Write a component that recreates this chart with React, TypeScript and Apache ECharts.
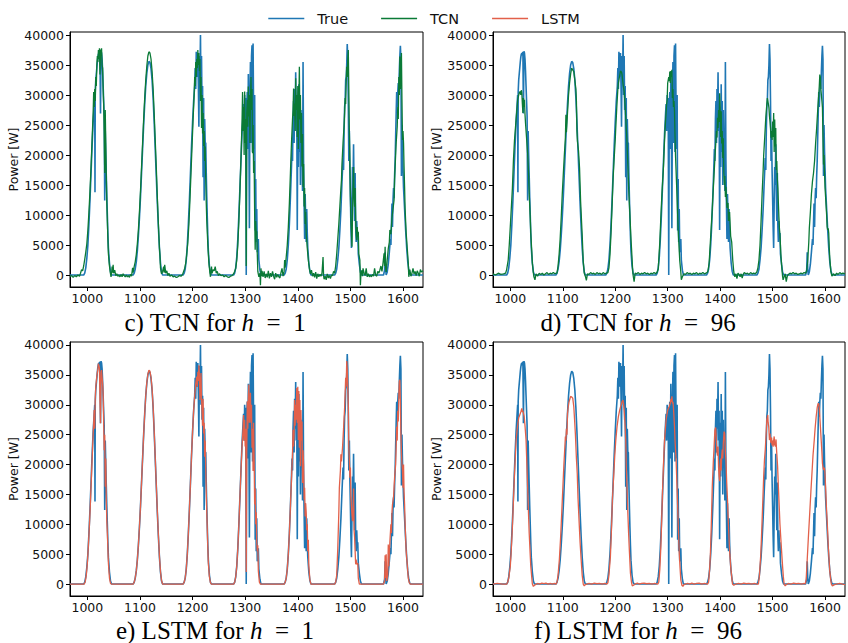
import React, { useEffect, useRef } from "react";
import * as echarts from "echarts";

// ---------- tick labels ----------
const xTicks = [1000, 1100, 1200, 1300, 1400, 1500, 1600];
const yTicks = [0, 5000, 10000, 15000, 20000, 25000, 30000, 35000, 40000];

// ---------- series (x = time step, y = power in W) ----------
const trueSeries = [
  [967, 0], [993, 0],
  [995, 300], [997, 1200], [999, 2800], [1001, 5000], [1003, 8500], [1005, 12500], [1007, 17000], [1009, 21500], [1011, 25500], [1013, 28500], [1014, 30000], [1014.5, 13800], [1015, 30500], [1016, 32500], [1017, 33500], [1018, 34500], [1019, 35500], [1020, 36300], [1021, 36800], [1022, 37000], [1023, 36600], [1024, 37200], [1025, 26900], [1026, 37300], [1027, 37000], [1028, 36000], [1029, 34000], [1030, 31500], [1031, 29000], [1032, 26500], [1033, 12400], [1034, 24000], [1035, 20000], [1036, 16500], [1037, 13000], [1038, 10000], [1039, 7000], [1040, 4500], [1042, 2000], [1044, 500], [1046, 0],
  [1087, 0], [1089, 300], [1091, 1000], [1093, 2200], [1095, 4000], [1097, 6500], [1099, 9500], [1101, 13000], [1103, 17000], [1105, 21000], [1107, 25000], [1109, 28500], [1111, 31500], [1113, 33600], [1115, 35000], [1117, 35600], [1119, 35400], [1121, 34400], [1123, 32500], [1125, 29500], [1127, 25500], [1129, 21000], [1131, 16500], [1133, 12000], [1135, 8000], [1137, 4500], [1139, 2000], [1141, 500], [1143, 0],
  [1182, 0], [1184, 300], [1186, 1000], [1188, 2500], [1190, 5000], [1192, 8500], [1194, 12500], [1196, 17000], [1198, 21500], [1200, 25500], [1202, 29000], [1204, 31500], [1205, 34500], [1206, 31000], [1207, 37200], [1208, 33000], [1209, 35500], [1210, 37000], [1211, 31800], [1212, 24700], [1213, 36500], [1214, 32500], [1215, 40000], [1216, 30000], [1217, 36500], [1218, 27500], [1219, 31500], [1220, 16300], [1221, 29500], [1222, 12400], [1223, 26000], [1224, 22100], [1225, 22000], [1226, 17000], [1227, 13000], [1228, 9500], [1229, 6500], [1230, 4000], [1232, 1500], [1234, 300], [1236, 0],
  [1278, 0], [1280, 300], [1282, 1200], [1284, 3000], [1286, 6000], [1288, 10000], [1290, 14500], [1292, 19000], [1294, 23500], [1296, 27000], [1297, 28500], [1298, 24000], [1299, 30000], [1300, 26000], [1301, 29500], [1302, 0], [1303, 28000], [1304, 30500], [1305, 21000], [1306, 33500], [1307, 25000], [1308, 7800], [1309, 30000], [1310, 35500], [1311, 22000], [1312, 36500], [1313, 38300], [1314, 20500], [1315, 38600], [1316, 27000], [1317, 21000], [1318, 30000], [1319, 7400], [1320, 16000], [1321, 5500], [1322, 11000], [1323, 3800], [1325, 6000], [1326, 2500], [1328, 800], [1330, 0],
  [1374, 0], [1376, 300], [1378, 1000], [1380, 2500], [1382, 5000], [1384, 8500], [1386, 13000], [1388, 18000], [1389, 21000], [1390, 19000], [1391, 26000], [1392, 29000], [1393, 22000], [1394, 31000], [1395, 26000], [1396, 33800], [1397, 24000], [1398, 29000], [1399, 7500], [1400, 27000], [1401, 18000], [1402, 31800], [1403, 20500], [1404, 29000], [1405, 15000], [1406, 27500], [1407, 20000], [1408, 24000], [1409, 14000], [1410, 35500], [1411, 19000], [1412, 12000], [1413, 6000], [1414, 13500], [1415, 9000], [1416, 5500], [1417, 11000], [1418, 7000], [1419, 4500], [1421, 2000], [1423, 600], [1425, 0],
  [1470, 0], [1472, 300], [1474, 1000], [1476, 2500], [1478, 4500], [1480, 7500], [1482, 11000], [1484, 15500], [1486, 19500], [1487, 17500], [1488, 24000], [1489, 28000], [1490, 29000], [1491, 32500], [1492, 33000], [1493, 35000], [1494, 38500], [1495, 36000], [1496, 29000], [1497, 19000], [1498, 24000], [1499, 17500], [1500, 13000], [1501, 8000], [1502, 4500], [1503, 12000], [1504, 18000], [1505, 15000], [1506, 21800], [1507, 14000], [1508, 9000], [1509, 17000], [1510, 8000], [1511, 5500], [1512, 9000], [1513, 6500], [1514, 7000], [1515, 3500], [1517, 1800], [1519, 500], [1521, 0],
  [1563, 0], [1565, 800], [1566, 3800], [1567, 1000], [1568, 0], [1570, 500], [1572, 1800], [1574, 3800], [1576, 6000], [1577, 5000], [1578, 8500], [1579, 11900], [1580, 8000], [1581, 12500], [1582, 14500], [1583, 12800], [1584, 16500], [1585, 19000], [1586, 23000], [1587, 27000], [1588, 30500], [1589, 28000], [1590, 30500], [1591, 32000], [1592, 31000], [1593, 34000], [1594, 36500], [1595, 38200], [1596, 36000], [1597, 16500], [1598, 25000], [1599, 20500], [1600, 17500], [1601, 14500], [1603, 11000], [1605, 7500], [1607, 4500], [1609, 2200], [1611, 800], [1613, 100], [1615, 0], [1638, 0],
];

const tcnH1 = [
  [967, -300], [970, -100], [973, -400], [976, -100], [979, -300], [982, 0], [985, -200], [987, 300], [989, 900], [991, 700],
  [993, 1500], [995, 2600], [997, 3800], [999, 5200], [1001, 7500], [1003, 10500], [1005, 14000], [1007, 18000], [1009, 22500], [1011, 27000], [1012, 30500], [1013, 28000], [1014, 31000], [1015, 29000], [1016, 33000], [1017, 31500], [1018, 35000], [1019, 36500], [1020, 35500], [1021, 37500], [1022, 36000], [1023, 37800], [1024, 33400], [1025, 37600], [1026, 36500], [1027, 37800], [1028, 35000], [1029, 34500], [1030, 31000], [1031, 28500], [1032, 24000], [1033, 17000], [1034, 27500], [1035, 22000], [1036, 16500], [1037, 12000], [1038, 9000], [1039, 6000], [1040, 3500], [1042, 1500], [1044, 200], [1045, -300],
  [1046, 300], [1047, 1400], [1048, 400], [1049, 1700], [1050, 300], [1052, 800], [1054, -100], [1056, 200], [1058, -200], [1060, 0], [1062, -300], [1064, 100], [1066, -300], [1068, 200], [1070, -100], [1072, -300], [1074, 0], [1076, -300], [1078, -100], [1080, -400], [1082, 100], [1084, -200], [1086, 1200], [1087, 400],
  [1089, 1400], [1091, 2200], [1093, 3400], [1095, 5200], [1097, 7500], [1099, 10500], [1101, 14000], [1103, 18000], [1105, 22000], [1107, 26000], [1109, 29500], [1111, 32500], [1113, 34800], [1115, 36500], [1117, 37200], [1119, 37000], [1121, 36000], [1123, 34000], [1125, 31000], [1127, 27000], [1129, 22500], [1131, 18000], [1133, 13000], [1135, 8500], [1137, 4500], [1138, 3300], [1139, 1200], [1141, 200],
  [1143, 600], [1145, 1400], [1146, 400], [1147, 1700], [1149, 300], [1151, 700], [1153, -100], [1155, 300], [1157, -200], [1160, 0], [1163, -300], [1166, -200], [1169, -400], [1172, -300], [1175, -100], [1178, -200], [1181, 100], [1183, 600], [1185, 1100],
  [1187, 2000], [1189, 3500], [1191, 5500], [1193, 8500], [1195, 12500], [1197, 17000], [1199, 21500], [1201, 26000], [1203, 30000], [1204, 33000], [1205, 31500], [1206, 35500], [1207, 33000], [1208, 36000], [1209, 34500], [1210, 37500], [1211, 35000], [1212, 37000], [1213, 34000], [1214, 36000], [1215, 29000], [1216, 33000], [1217, 24500], [1218, 30000], [1219, 23600], [1220, 27000], [1221, 21500], [1222, 24000], [1223, 19000], [1224, 21400], [1225, 16000], [1226, 12000], [1227, 9000], [1229, 5000], [1231, 2000], [1233, 300], [1234, -300],
  [1235, 600], [1236, 1400], [1237, 300], [1239, 900], [1241, 700], [1243, 1400], [1245, 300], [1247, 600], [1249, -100], [1251, 200], [1254, -100], [1257, 0], [1260, -300], [1263, -100], [1266, -300], [1269, -400], [1272, -200], [1275, -100], [1278, 200], [1280, 600], [1282, 1100],
  [1284, 2500], [1286, 5000], [1288, 9000], [1290, 14000], [1292, 19500], [1294, 25500], [1295, 30500], [1296, 24000], [1297, 28000], [1298, 20000], [1299, 30600], [1300, 22000], [1301, 26000], [1302, 1500], [1303, 27000], [1304, 29200], [1305, 24700], [1306, 31400], [1307, 26400], [1308, 30000], [1309, 22000], [1310, 28500], [1311, 33000], [1312, 27500], [1313, 31000], [1314, 20300], [1315, 25000], [1316, 17000], [1317, 19000], [1318, 10300], [1319, 4200], [1320, 9000], [1321, 7000], [1322, 7300], [1323, 3500], [1324, 600], [1326, -300], [1328, 300], [1329, -1700],
  [1330, 1100], [1331, -200], [1332, 700], [1334, -300], [1336, 600], [1338, -500], [1340, 200], [1342, -400], [1344, 700], [1346, -550], [1348, 300], [1350, -300], [1352, 600], [1354, -200], [1356, -700], [1358, 300], [1360, -400], [1362, 100], [1364, -300], [1366, -500], [1368, 400], [1370, 1100], [1372, -200], [1374, 600], [1375, 2500], [1376, 1200],
  [1378, 3000], [1380, 5000], [1382, 8000], [1384, 12000], [1386, 17000], [1388, 22000], [1390, 26000], [1391, 27500], [1392, 31100], [1393, 26500], [1394, 28600], [1395, 24000], [1396, 32800], [1397, 27500], [1398, 30000], [1399, 23000], [1400, 31500], [1401, 21000], [1402, 29000], [1403, 34700], [1404, 25900], [1405, 30000], [1406, 22000], [1407, 27000], [1408, 18100], [1409, 23500], [1410, 14700], [1411, 18500], [1412, 11400], [1413, 14500], [1414, 8500], [1415, 10500], [1416, 6900], [1418, 4500], [1420, 2500], [1422, 1100], [1424, 200],
  [1426, 800], [1428, -200], [1430, 300], [1432, -400], [1434, 500], [1436, -600], [1438, 200], [1440, -300], [1442, 100], [1444, -200], [1446, 300], [1448, 3000], [1449, -100], [1450, -700], [1452, -200], [1454, -800], [1456, 200], [1458, -500], [1460, -100], [1462, -600], [1464, 0], [1466, -100], [1468, 600], [1470, 300], [1472, 1500],
  [1474, 3500], [1476, 6000], [1478, 8500], [1480, 11500], [1482, 14500], [1483, 15800], [1484, 18500], [1486, 22000], [1488, 25000], [1489, 27000], [1490, 29500], [1491, 28500], [1492, 32000], [1493, 34700], [1494, 33000], [1495, 36000], [1496, 37500], [1497, 30900], [1498, 24000], [1499, 19200], [1500, 13000], [1501, 9000], [1502, 7000], [1503, 4700], [1504, 10000], [1505, 14500], [1506, 18000], [1507, 13000], [1508, 11400], [1509, 14500], [1510, 9200], [1511, 7000], [1512, 5800], [1513, 8000], [1514, 6400], [1515, 7200], [1516, 3500], [1518, 2500], [1519, -1700],
  [1520, 200], [1522, 800], [1523, -200], [1524, 1100], [1526, 300], [1528, -100], [1530, 1100], [1532, -300], [1534, 200], [1536, -300], [1538, 0], [1540, -300], [1542, 100], [1544, -200], [1546, 1100], [1548, 0], [1550, -200], [1552, 600], [1554, 300], [1556, 800], [1558, 1500], [1560, 600], [1562, 2000], [1564, 3600], [1565, 1500], [1566, 4700], [1567, 1200], [1568, 500],
  [1570, 2500], [1572, 4400], [1574, 5500], [1575, 7500], [1577, 6800], [1579, 9500], [1581, 11000], [1583, 12500], [1584, 16000], [1585, 18000], [1587, 22000], [1589, 24700], [1590, 28000], [1591, 26000], [1592, 33000], [1593, 30000], [1594, 36400], [1595, 31000], [1596, 34000], [1597, 37000], [1598, 29200], [1599, 22500], [1600, 24000], [1601, 22000], [1602, 18000], [1603, 14700], [1604, 11000], [1605, 9000], [1606, 7000], [1608, 4500], [1610, 2000], [1611, -300],
  [1613, 900], [1615, -200], [1617, 300], [1619, 1100], [1621, 200], [1623, 600], [1625, -100], [1627, 700], [1629, 300], [1631, -200], [1633, 900], [1635, 500], [1638, 700],
];

const tcnH96 = [
  [967, 200], [972, 0], [977, 300], [982, 100], [987, 200], [991, 300],
  [993, 900], [996, 2500], [998, 5000], [1001, 9700], [1004, 14500], [1006, 19200], [1008, 22500], [1011, 25900], [1013, 28000], [1014, 29200], [1016, 30000], [1017, 30300], [1019, 30600], [1020, 30000], [1021, 30800], [1022, 30300], [1023, 28500], [1024, 27000], [1025, 29500], [1026, 28000], [1027, 29200], [1028, 26800], [1029, 25300], [1031, 22800], [1033, 20300], [1035, 16500], [1036, 13600], [1038, 9500], [1039, 7000], [1041, 3800], [1042, 2000], [1044, 300], [1045, -300], [1047, -800],
  [1049, 200], [1052, -200], [1055, 300], [1058, 100], [1061, 300], [1064, 0], [1067, 200], [1070, 400], [1073, 100], [1076, 300], [1079, 200], [1082, 400], [1085, 200], [1087, 300],
  [1089, 300], [1091, 1500], [1093, 3400], [1095, 6000], [1097, 9500], [1099, 13400], [1101, 16800], [1103, 20000], [1105, 22900], [1106, 26700], [1107, 23800], [1109, 27000], [1111, 30000], [1113, 32000], [1115, 33500], [1117, 34500], [1119, 34200], [1121, 33900], [1123, 32500], [1125, 31000], [1126, 29000], [1127, 24000], [1128, 22300], [1130, 20700], [1132, 17800], [1134, 12300], [1136, 8500], [1137, 6700], [1139, 2300], [1141, 300], [1143, -200], [1145, -900],
  [1147, 200], [1150, 100], [1153, 400], [1156, 200], [1159, 300], [1162, 100], [1165, 400], [1168, 200], [1171, 300], [1174, 100], [1177, 400], [1180, 200], [1183, 300], [1186, 400],
  [1188, 1200], [1190, 3400], [1192, 7000], [1194, 11500], [1196, 16200], [1198, 19500], [1200, 22500], [1201, 24500], [1203, 28000], [1205, 31000], [1206, 32000], [1208, 33000], [1210, 34000], [1212, 33800], [1213, 33400], [1215, 31700], [1217, 30600], [1219, 28000], [1221, 24500], [1222, 23000], [1224, 18500], [1226, 13500], [1228, 10000], [1230, 6000], [1231, 4500], [1233, 1200], [1234, 0], [1236, -1100],
  [1238, 300], [1241, 200], [1244, 400], [1247, 100], [1250, 300], [1253, 200], [1256, 400], [1259, 200], [1262, 300], [1265, 100], [1268, 300], [1271, 200], [1274, 400], [1277, 200], [1280, 500],
  [1282, 1000], [1283, 2500], [1285, 5500], [1287, 9700], [1289, 13500], [1291, 16500], [1292, 18100], [1294, 22500], [1296, 25800], [1298, 28500], [1299, 29200], [1300, 32000], [1302, 33000], [1303, 32300], [1304, 33900], [1305, 32000], [1306, 34000], [1307, 33000], [1308, 34200], [1309, 29500], [1310, 31000], [1311, 28000], [1312, 29000], [1313, 27300], [1314, 23000], [1315, 19700], [1317, 15000], [1318, 12500], [1320, 7500], [1321, 5800], [1323, 2400], [1325, 500], [1326, -800], [1328, -300],
  [1331, 200], [1334, 100], [1337, 400], [1340, 200], [1343, 300], [1346, 100], [1349, 300], [1352, 200], [1355, 400], [1358, 100], [1361, 300], [1364, 200], [1367, 400], [1370, 200], [1373, 300], [1376, 500],
  [1377, 800], [1379, 2000], [1381, 5000], [1383, 8000], [1385, 11000], [1387, 14500], [1389, 17800], [1391, 21000], [1393, 24000], [1394, 22900], [1395, 26200], [1396, 24500], [1397, 27500], [1398, 25500], [1399, 30300], [1400, 27900], [1401, 23000], [1402, 27300], [1403, 21900], [1404, 24000], [1405, 19500], [1406, 22800], [1407, 17000], [1408, 15000], [1409, 16500], [1410, 13000], [1411, 14700], [1413, 11200], [1415, 12000], [1416, 9000], [1418, 10500], [1420, 6500], [1422, 5500], [1424, 2500], [1426, 500], [1428, -300],
  [1430, 200], [1432, -600], [1434, 300], [1436, 100], [1438, -300], [1440, 200], [1442, -500], [1444, 100], [1446, 400], [1449, 200], [1452, 300], [1455, 100], [1458, 400], [1461, 200], [1464, 300], [1467, 200], [1470, 500],
  [1472, 1200], [1474, 2500], [1476, 5000], [1478, 9000], [1480, 13500], [1482, 17500], [1483, 20000], [1485, 23000], [1487, 26200], [1489, 28500], [1490, 29500], [1492, 28500], [1493, 27900], [1494, 26500], [1495, 25600], [1496, 24500], [1497, 22900], [1498, 24000], [1499, 22500], [1500, 25600], [1501, 23000], [1502, 27000], [1503, 20500], [1504, 25900], [1505, 21400], [1506, 24500], [1507, 17500], [1508, 19000], [1509, 16000], [1510, 14500], [1511, 12000], [1512, 9700], [1513, 7800], [1514, 6700], [1516, 3000], [1518, 800], [1519, -200], [1520, -800],
  [1522, -300], [1524, 200], [1526, -1100], [1528, -200], [1530, 100], [1533, 300], [1536, 200], [1539, 400], [1542, 200], [1545, 300], [1548, 100], [1551, 200], [1554, 300], [1557, 200], [1560, 400], [1563, 300], [1565, 800],
  [1567, 2500], [1569, 5500], [1570, 7800], [1572, 10500], [1574, 13500], [1576, 15600], [1578, 17000], [1580, 19000], [1582, 22000], [1584, 24500], [1586, 27500], [1588, 30100], [1589, 31500], [1590, 33400], [1591, 33000], [1592, 31000], [1593, 30000], [1594, 29000], [1595, 27900], [1596, 23000], [1597, 18400], [1598, 20000], [1599, 17000], [1600, 14500], [1602, 11500], [1603, 10000], [1604, 8000], [1605, 7500], [1606, 7800], [1607, 7000], [1608, 4500], [1609, 2800], [1611, 600], [1613, -200],
  [1616, 200], [1619, -100], [1622, 300], [1625, 100], [1628, 400], [1631, 200], [1634, 300], [1638, 200],
];

const lstmH1 = [
  [967, 0], [994, 0],
  [996, 400], [998, 1500], [1000, 3500], [1002, 6500], [1004, 10000], [1006, 14000], [1008, 18500], [1010, 23000], [1012, 27000], [1013, 29100], [1014, 26000], [1015, 31000], [1016, 33000], [1018, 34800], [1020, 36000], [1021, 36900], [1022, 36500], [1023, 36100], [1024, 30500], [1025, 26900], [1026, 35500], [1027, 35800], [1028, 34500], [1029, 33500], [1030, 31900], [1031, 27000], [1032, 22400], [1033, 25000], [1034, 16300], [1035, 21000], [1036, 14000], [1037, 10500], [1038, 8500], [1039, 6000], [1040, 3500], [1042, 1000], [1044, 100], [1046, 0],
  [1087, 0], [1089, 300], [1091, 1000], [1093, 2200], [1095, 4000], [1097, 6500], [1099, 9500], [1101, 13000], [1103, 17000], [1105, 21000], [1107, 25000], [1109, 28500], [1111, 31500], [1113, 33700], [1115, 35100], [1117, 35800], [1119, 35600], [1121, 34600], [1123, 32700], [1125, 29700], [1127, 25700], [1129, 21200], [1131, 16700], [1133, 12200], [1135, 8200], [1137, 4700], [1139, 2100], [1141, 600], [1143, 0],
  [1182, 0], [1184, 300], [1186, 1000], [1188, 2500], [1190, 5000], [1192, 8500], [1194, 12500], [1196, 17000], [1198, 21500], [1200, 25500], [1202, 29000], [1204, 31500], [1206, 33500], [1208, 34700], [1209, 33000], [1210, 35500], [1211, 34000], [1212, 36600], [1213, 35000], [1214, 30800], [1215, 33000], [1216, 35300], [1217, 31000], [1218, 29100], [1219, 26500], [1220, 31000], [1221, 25200], [1222, 27000], [1223, 21300], [1224, 24000], [1225, 19500], [1226, 15500], [1227, 12000], [1228, 9000], [1229, 6000], [1230, 3500], [1232, 1200], [1234, 200], [1236, 0],
  [1278, 0], [1280, 300], [1282, 1200], [1284, 3000], [1286, 6000], [1288, 10000], [1290, 14500], [1292, 19000], [1294, 23000], [1296, 26000], [1297, 28300], [1298, 24000], [1299, 27500], [1300, 23000], [1301, 26000], [1302, 2000], [1303, 22000], [1304, 30600], [1305, 26000], [1306, 31000], [1307, 33400], [1308, 27000], [1309, 29500], [1310, 32000], [1311, 27000], [1312, 30000], [1313, 22800], [1314, 26000], [1315, 18900], [1316, 27000], [1317, 21000], [1318, 13300], [1319, 16000], [1320, 10000], [1321, 12000], [1322, 7000], [1323, 5500], [1324, 6500], [1325, 2200], [1327, 300], [1329, 0],
  [1374, 0], [1376, 300], [1378, 1000], [1380, 2500], [1382, 5000], [1384, 8500], [1386, 13000], [1388, 17500], [1390, 22000], [1391, 25800], [1392, 23000], [1393, 25000], [1394, 30800], [1395, 26500], [1396, 30000], [1397, 27500], [1398, 32800], [1399, 27000], [1400, 33000], [1401, 24100], [1402, 32300], [1403, 22800], [1404, 30800], [1405, 19700], [1406, 29100], [1407, 24000], [1408, 27200], [1409, 16900], [1410, 22400], [1411, 20000], [1412, 14100], [1413, 16100], [1414, 11300], [1415, 13500], [1416, 11900], [1417, 9000], [1418, 10000], [1419, 5500], [1420, 7400], [1421, 3000], [1423, 700], [1425, 0],
  [1470, 0], [1472, 300], [1474, 1500], [1476, 6000], [1478, 12000], [1479, 16100], [1481, 19000], [1482, 21700], [1483, 20500], [1485, 22800], [1487, 26000], [1489, 29500], [1491, 34500], [1492, 33000], [1493, 37300], [1494, 36000], [1495, 33000], [1496, 30000], [1497, 22800], [1498, 20800], [1499, 17800], [1500, 19500], [1501, 14500], [1502, 13000], [1503, 11500], [1504, 10500], [1505, 12000], [1506, 16000], [1507, 9000], [1508, 7800], [1509, 5500], [1510, 3300], [1511, 4100], [1512, 3300], [1514, 3500], [1515, 1000], [1517, 0],
  [1563, 0], [1565, 500], [1566, 4800], [1567, 1000], [1568, 5000], [1569, 500], [1571, 1500], [1572, 6600], [1573, 3000], [1575, 7000], [1577, 10000], [1578, 8500], [1579, 12000], [1580, 13300], [1582, 14500], [1584, 17800], [1586, 20000], [1587, 23000], [1588, 26300], [1589, 24000], [1590, 29000], [1591, 27200], [1592, 31500], [1593, 33900], [1594, 34200], [1595, 30600], [1596, 25000], [1597, 22000], [1598, 20000], [1599, 19000], [1600, 16100], [1601, 20000], [1602, 15500], [1603, 13300], [1604, 10000], [1605, 7800], [1606, 5500], [1608, 3300], [1610, 1000], [1612, 200], [1614, 0], [1638, 0],
];

const lstmH96 = [
  [967, 0], [975, 100], [985, 0], [993, 0],
  [995, 300], [997, 1000], [1000, 3000], [1002, 6000], [1004, 9600], [1006, 14000], [1008, 18500], [1010, 22000], [1011, 24100], [1013, 25800], [1014.5, 26900], [1016, 27800], [1018, 28300], [1020, 28800], [1022, 29400], [1023, 28800], [1024, 29000], [1025, 28600], [1026.5, 28000], [1028, 26500], [1030, 24100], [1031, 21500], [1033, 16300], [1035, 11000], [1036, 8500], [1038, 4800], [1039, 3000], [1041, 1000], [1042, 0], [1044, -400], [1046, -200],
  [1048, -100], [1052, 100], [1056, 0], [1060, 150], [1064, 50], [1068, 150], [1072, 0], [1076, 100], [1080, 0], [1084, 100], [1087, 0],
  [1089, 300], [1091, 1500], [1093.5, 4100], [1096, 8000], [1098, 11900], [1100, 15800], [1102, 19700], [1104, 23000], [1105, 24700], [1106, 24000], [1107, 26000], [1108, 25000], [1109, 28500], [1110.5, 29700], [1112, 30500], [1115, 31400], [1117, 31300], [1119, 31100], [1121, 29700], [1122.5, 27500], [1124, 25200], [1126, 21000], [1127.6, 18500], [1129, 14500], [1131, 10700], [1133, 7000], [1135, 4100], [1137, 1500], [1139, 0], [1141, -300], [1143, -100],
  [1146, 0], [1150, 100], [1155, 0], [1160, 150], [1165, 50], [1170, 100], [1175, 0], [1180, 100], [1184, 0],
  [1186, 200], [1188, 1500], [1190.8, 4600], [1193, 9500], [1194.6, 14100], [1197, 18000], [1199, 21300], [1201, 24000], [1203.4, 26300], [1206, 28000], [1208.5, 29100], [1210, 29600], [1212, 30200], [1213, 30500], [1214.8, 30800], [1216, 30000], [1217, 29100], [1218.5, 27000], [1220, 24100], [1221, 20000], [1222.4, 16300], [1224, 12000], [1225.5, 8500], [1227, 5500], [1229, 1800], [1231, 300], [1232.5, -300], [1235, -200],
  [1238, 0], [1242, 150], [1246, 0], [1250, 100], [1255, 150], [1260, 50], [1265, 100], [1270, 0], [1275, 100], [1281, 0],
  [1283, 300], [1285, 2500], [1287, 6300], [1288.5, 10500], [1290, 15200], [1292, 20000], [1294, 24100], [1297, 27500], [1300, 29100], [1303, 29700], [1305, 30300], [1306, 31000], [1307, 30500], [1308, 31400], [1309, 30200], [1310, 30500], [1311, 29500], [1313, 26300], [1314, 24000], [1316, 20800], [1317.5, 17000], [1319, 13000], [1320.5, 9000], [1322, 5200], [1323.5, 2800], [1325, 700], [1327, -200], [1329, -400], [1331, -100],
  [1334, 0], [1338, 100], [1342, 0], [1346, 150], [1350, 0], [1355, 100], [1360, 150], [1365, 0], [1370, 100], [1376, 0],
  [1378, 300], [1380, 2500], [1381.5, 5200], [1383, 9500], [1385, 16300], [1387, 20500], [1388.5, 23000], [1390, 25800], [1391.5, 26200], [1393, 23500], [1394, 22000], [1395, 21500], [1396, 23000], [1397, 19500], [1398, 18000], [1399, 17200], [1400, 19500], [1401, 21000], [1402, 19000], [1403, 21500], [1404, 22500], [1405, 21000], [1406, 23500], [1407.5, 25500], [1408.7, 25200], [1410, 22000], [1411, 20800], [1412.5, 17000], [1414, 14100], [1415.5, 10500], [1417, 7400], [1418.5, 5000], [1420, 3000], [1422, 1200], [1423.5, 0], [1426, -200],
  [1430, 0], [1435, 100], [1440, 0], [1445, 150], [1450, 50], [1455, 100], [1460, 0], [1465, 100], [1470, 0], [1473, 0],
  [1475, 1500], [1477.6, 5200], [1479.5, 9500], [1481.4, 14100], [1483, 18000], [1484.5, 20800], [1486, 22500], [1487, 24100], [1489, 27500], [1490.8, 28300], [1491.5, 27000], [1492.7, 26300], [1494, 24100], [1495, 25200], [1496, 24000], [1497, 23600], [1498, 24500], [1499, 23200], [1500, 24000], [1501, 23000], [1502, 24000], [1503, 24700], [1504, 23300], [1505.5, 23000], [1506.5, 24200], [1507.5, 22500], [1509.5, 19700], [1511, 16300], [1512.6, 13000], [1514, 10000], [1515.8, 7400], [1517.5, 5000], [1519, 3000], [1520.5, 1200], [1522, 0], [1524, -300], [1526, -100],
  [1530, 100], [1535, 0], [1540, 150], [1545, 50], [1550, 100], [1555, 0], [1560, 100], [1562, 0],
  [1564, 800], [1566, 4100], [1568, 7500], [1570.4, 11300], [1573, 15500], [1575, 18500], [1577, 21500], [1579.4, 24100], [1581, 26000], [1583, 28000], [1585, 29500], [1586.6, 30200], [1588, 30200], [1589, 29400], [1590, 28000], [1591, 26500], [1592.6, 24100], [1594, 22000], [1595, 20200], [1596.5, 19300], [1597.6, 19100], [1598.5, 19500], [1599.5, 19000], [1601, 16300], [1602.5, 13000], [1604.5, 9600], [1606, 6500], [1607.6, 4100], [1609, 2200], [1610.8, 700], [1612, 0], [1614, -300], [1618, -100], [1622, 0], [1628, 100], [1633, 0], [1638, -100],
];

// ---------- styles / layout ----------
const BLUE = "#1f77b4";
const GREEN = "#0a7a36";
const RED = "#e2604a";
const SANS = "DejaVu Sans";
const SERIF = "Liberation Serif";

const panels = [
  { grid: { left: 70, top: 32, width: 353, height: 255 }, pred: tcnH1, name: "TCN", color: GREEN, label: "c) TCN for ", h: "1", tx: 215, ty: 322 },
  { grid: { left: 493, top: 32, width: 352, height: 255 }, pred: tcnH96, name: "TCN", color: GREEN, label: "d) TCN for ", h: "96", tx: 638, ty: 322 },
  { grid: { left: 70, top: 342, width: 353, height: 254 }, pred: lstmH1, name: "LSTM", color: RED, label: "e) LSTM for ", h: "1", tx: 215, ty: 630 },
  { grid: { left: 493, top: 342, width: 352, height: 254 }, pred: lstmH96, name: "LSTM", color: RED, label: "f) LSTM for ", h: "96", tx: 638, ty: 630 },
];

export default function App() {
  const ref = useRef<HTMLDivElement>(null);
  useEffect(() => {
    if (!ref.current) return;
    const chart = echarts.init(ref.current, null, { renderer: "svg" });
    const plain = (v: number) => String(Math.round(v));
    const grids = panels.map((p) => ({
      ...p.grid,
      show: true,
      borderColor: "#000",
      borderWidth: 1,
      backgroundColor: "transparent",
      containLabel: false,
    }));
    const xAxes = panels.map((_, i) => ({
      type: "value",
      gridIndex: i,
      min: 967,
      max: 1638,
      axisLine: { show: true, onZero: false, lineStyle: { color: "#000", width: 1 } },
      axisTick: { show: true, inside: false, length: 4, customValues: xTicks, lineStyle: { color: "#000" } },
      axisLabel: { customValues: xTicks, formatter: plain, fontFamily: SANS, fontSize: 12.5, color: "#111", margin: 5 },
      splitLine: { show: false },
    }));
    const yAxes = panels.map((_, i) => ({
      type: "value",
      gridIndex: i,
      min: -2000,
      max: 40500,
      name: "Power [W]",
      nameLocation: "middle",
      nameRotate: 90,
      nameGap: 47,
      nameTextStyle: { fontFamily: SANS, fontSize: 12.5, color: "#111" },
      axisLine: { show: true, onZero: false, lineStyle: { color: "#000", width: 1 } },
      axisTick: { show: true, inside: false, length: 4, customValues: yTicks, lineStyle: { color: "#000" } },
      axisLabel: { customValues: yTicks, formatter: plain, fontFamily: SANS, fontSize: 12.5, color: "#111", margin: 6 },
      splitLine: { show: false },
    }));
    const series: any[] = [];
    panels.forEach((p, i) => {
      series.push({
        type: "line",
        name: "True",
        xAxisIndex: i,
        yAxisIndex: i,
        data: trueSeries,
        showSymbol: false,
        symbol: "none",
        silent: true,
        z: 2,
        lineStyle: { color: BLUE, width: 1.6 },
        itemStyle: { color: BLUE },
      });
      series.push({
        type: "line",
        name: p.name,
        xAxisIndex: i,
        yAxisIndex: i,
        data: p.pred,
        showSymbol: false,
        symbol: "none",
        silent: true,
        z: 3,
        lineStyle: { color: p.color, width: 1.3 },
        itemStyle: { color: p.color },
      });
    });
    const graphic = panels.map((p) => ({
      type: "text",
      x: p.tx,
      y: p.ty,
      style: {
        text: `{n|${p.label}}{i|h}{n|  =  ${p.h}}`,
        align: "center",
        verticalAlign: "middle",
        rich: {
          n: { fontFamily: SERIF, fontSize: 25, lineHeight: 24, fill: "#000" },
          i: { fontFamily: SERIF, fontSize: 25, lineHeight: 24, fontStyle: "italic", fill: "#000" },
        },
      },
    }));
    chart.setOption({
      animation: false,
      backgroundColor: "#fff",
      legend: {
        data: ["True", "TCN", "LSTM"],
        top: 6,
        left: "center",
        icon: "rect",
        itemWidth: 36,
        itemHeight: 1.5,
        itemGap: 33,
        selectedMode: false,
        textStyle: { fontFamily: SANS, fontSize: 14.5, color: "#111", padding: [0, 0, 0, 8] },
      },
      grid: grids,
      xAxis: xAxes,
      yAxis: yAxes,
      series,
      graphic,
    });
    return () => chart.dispose();
  }, []);
  return (
    <div
      ref={ref}
      style={{ position: "absolute", left: 0, top: 0, width: 848, height: 643, background: "#fff" }}
    />
  );
}
